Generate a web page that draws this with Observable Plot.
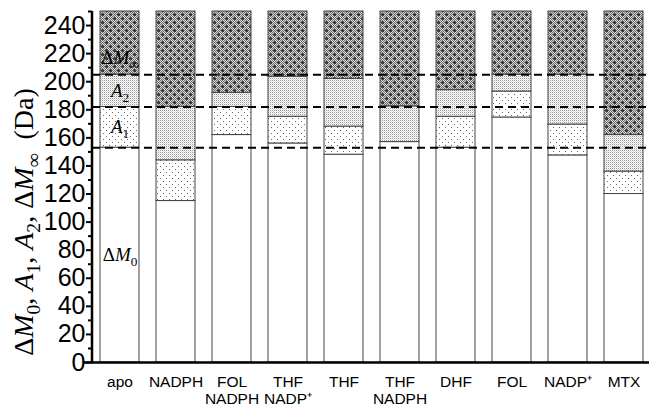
<!DOCTYPE html>
<html><head><meta charset="utf-8">
<script src="https://cdn.jsdelivr.net/npm/d3@7"></script>
<script src="https://cdn.jsdelivr.net/npm/@observablehq/plot@0.6"></script>
<style>body{margin:0;background:#fff}</style>
</head><body><div id="chart"></div>
<script>
// ---- data ----
const categories = ["apo","NADPH","FOL\nNADPH","THF\nNADP⁺","THF","THF\nNADPH","DHF","FOL","NADP⁺","MTX"];
const dM0 = [153, 115, 162, 156, 148, 157, 153, 174.5, 147.5, 120];   // ΔM0 (Da)
const A1  = [29, 29, 20, 19, 20, 0, 22, 18.5, 22, 16];                  // A1 (Da)
const A2  = [23, 38, 10, 28.5, 34, 25.5, 19, 12, 35.5, 26];             // A2 (Da)
const yMax = 250;
const refLevels = [153, 182, 205];
const yTicks = d3.range(0, 241, 20);
const yMinor = d3.range(10, 251, 20);
const yTitle = "ΔM0, A1, A2, ΔM∞ (Da)";

// ---- build segment table ----
const rows = [];
categories.forEach((c, i) => {
  const a = dM0[i], b = a + A1[i], d = b + A2[i];
  rows.push({cat: c, seg: "M0", y1: 0, y2: a});
  if (A1[i] > 0) rows.push({cat: c, seg: "A1", y1: a, y2: b});
  if (A2[i] > 0) rows.push({cat: c, seg: "A2", y1: b, y2: d});
  rows.push({cat: c, seg: "Inf", y1: d, y2: yMax});
});
const seg = s => rows.filter(r => r.seg === s);
const apo = rows.filter(r => r.cat === categories[0]);
const mid = s => { const r = apo.find(r => r.seg === s); return (r.y1 + r.y2) / 2; };
const inBarLabels = [
  {t: "ΔM0", y: mid("M0")},
  {t: "A1", y: mid("A1")},
  {t: "A2", y: mid("A2")}
];
const infLabel = [{t: "ΔM∞", y: mid("Inf")}];

const barStyle = {x: "cat", y1: "y1", y2: "y2", stroke: "#444", strokeWidth: 1};
const serif = "'Liberation Serif', 'Times New Roman', serif";

const yAxisLine = (...args) => {
  const dim = args.find(a => a && typeof a === "object" && "marginLeft" in a && "height" in a);
  const l = document.createElementNS("http://www.w3.org/2000/svg", "line");
  l.setAttribute("x1", dim.marginLeft); l.setAttribute("x2", dim.marginLeft);
  l.setAttribute("y1", dim.marginTop); l.setAttribute("y2", dim.height - dim.marginBottom);
  l.setAttribute("stroke", "black"); l.setAttribute("stroke-width", 2.5);
  return l;
};

const plot = Plot.plot({
  width: 649, height: 407,
  marginTop: 11, marginBottom: 45, marginLeft: 92, marginRight: 0,
  style: {fontFamily: "'Liberation Sans', Arial, sans-serif", background: "white", color: "black"},
  x: {domain: categories, paddingInner: 0.3, paddingOuter: 0.12, align: 0.6, label: null},
  y: {domain: [0, yMax], label: null},
  marks: [
    Plot.rectY(seg("M0"), {...barStyle, fill: "white"}),
    Plot.rectY(seg("A1"), {...barStyle, fill: "url(#pA1)"}),
    Plot.rectY(seg("A2"), {...barStyle, fill: "url(#pA2)"}),
    Plot.rectY(seg("Inf"), {...barStyle, fill: "url(#pInf)"}),
    Plot.text(inBarLabels, {x: () => categories[0], y: "y", text: "t", fontSize: 19, fontFamily: serif, fill: "black"}),
    Plot.text(infLabel, {x: () => categories[0], y: "y", text: "t", dy: 15, fontSize: 19, fontFamily: serif, fill: "black"}),
    Plot.ruleY(refLevels, {stroke: "black", strokeWidth: 2, strokeDasharray: "8,5"}),
    Plot.ruleY([0], {stroke: "black", strokeWidth: 2.5, insetLeft: -9}),
    yAxisLine,
    Plot.axisY(yMinor, {tickSize: 4, strokeWidth: 2, tickFormat: () => "", label: null}),
    Plot.axisY(yTicks, {tickSize: 6, strokeWidth: 2, tickPadding: 1, fontSize: 25, fill: "black", label: null}),
    Plot.axisX({tickSize: 0, tickPadding: 12, fontSize: 15.5, lineHeight: 1.13, label: null, fill: "black"}),
    Plot.text([yTitle], {frameAnchor: "left", dx: -68, dy: 35, rotate: -90, textAnchor: "middle", lineAnchor: "middle", fontSize: 28, fontFamily: serif, fill: "black"})
  ]
});

// ---- patterns ----
const svg = plot.tagName.toLowerCase() === "svg" ? plot : plot.querySelector("svg");
let inf = '<rect width="8" height="8" fill="#d8d8d8"/>';
for (let y = 0; y < 8; y++) for (let x = 0; x < 8; x++) if ((x + y) % 2 === 0) inf += `<rect x="${x}" y="${y}" width="1" height="1" fill="#6a6a6a"/>`;
for (const [cx, cy] of [[2, 2], [6, 6]]) for (const [dx, dy] of [[0,0],[1,0],[-1,0],[0,1],[0,-1],[1,1]]) inf += `<rect x="${cx+dx}" y="${cy+dy}" width="1" height="1" fill="#383838"/>`;
const defs = `
<pattern id="pA1" width="6" height="6" patternUnits="userSpaceOnUse" shape-rendering="crispEdges">
  <rect width="6" height="6" fill="white"/><rect x="1" y="1" width="1" height="1" fill="#666"/><rect x="4" y="4" width="1" height="1" fill="#666"/>
</pattern>
<pattern id="pA2" width="2" height="2" patternUnits="userSpaceOnUse" shape-rendering="crispEdges">
  <rect width="2" height="2" fill="white"/><rect x="0" y="0" width="1" height="1" fill="#999"/><rect x="1" y="1" width="1" height="1" fill="#dcdcdc"/>
</pattern>
<pattern id="pInf" width="8" height="8" patternUnits="userSpaceOnUse" shape-rendering="crispEdges">${inf}</pattern>`;
const d = document.createElementNS("http://www.w3.org/2000/svg", "defs");
d.innerHTML = defs;
svg.insertBefore(d, svg.firstChild);

// ---- rich text (italics & subscripts) ----
const richParts = {
  "ΔM0": [["Δ"], ["M", "i"], ["0", "sub"]],
  "A1": [["A", "i"], ["1", "sub"]],
  "A2": [["A", "i"], ["2", "sub"]],
  "ΔM∞": [["Δ"], ["M", "i"], ["∞", "sub"]],
  [yTitle]: [["Δ"], ["M", "i"], ["0", "sub"], [", "], ["A", "i"], ["1", "sub"], [", "], ["A", "i"], ["2", "sub"], [", "], ["Δ"], ["M", "i"], ["∞", "sub"], ["\u00a0\u00a0(Da)"]]
};
svg.querySelectorAll("text").forEach(el => {
  const parts = richParts[el.textContent];
  if (!parts) return;
  const fs = parseFloat(el.getAttribute("font-size") || el.parentNode.getAttribute("font-size") || 16);
  const t = d3.select(el); t.text(null);
  let shifted = 0;
  for (const [s, k] of parts) {
    const ts = t.append("tspan").text(s);
    if (k === "i") ts.attr("font-style", "italic");
    const target = k === "sub" ? 0.25 * fs : 0;
    if (target !== shifted) { ts.attr("dy", target - shifted); shifted = target; }
    if (k === "sub") ts.attr("font-size", 0.7 * fs);
  }
});
document.getElementById("chart").appendChild(plot);
</script>
</body></html>
